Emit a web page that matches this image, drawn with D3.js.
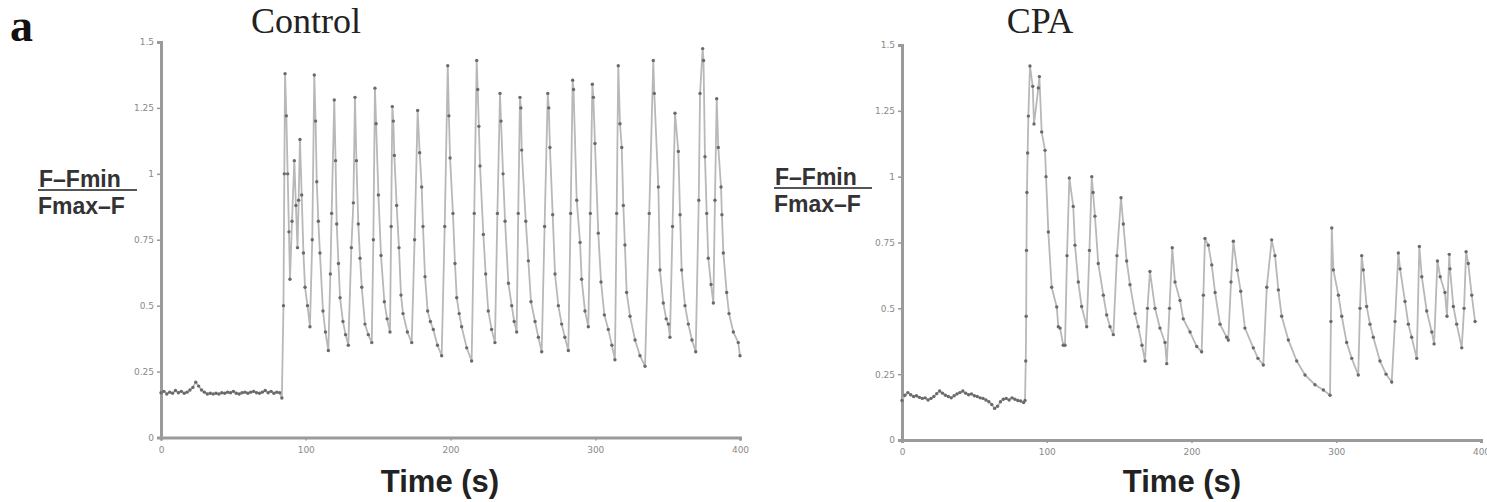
<!DOCTYPE html>
<html>
<head>
<meta charset="utf-8">
<script src="https://cdn.jsdelivr.net/npm/d3@7/dist/d3.min.js"></script>
<style>
  html, body { margin: 0; padding: 0; background: #fff; }
  svg { display: block; }
</style>
</head>
<body>
<svg id="fig" width="1487" height="502"></svg>
<script>
// Fluorescence ratio (F - Fmin)/(Fmax - F) over time, control vs CPA-treated cell.

const xTicks = [0, 100, 200, 300, 400];
const yTicks = [0, 0.25, 0.5, 0.75, 1, 1.25, 1.5];
const yTickLabels = ["0", "0.25", "0.5", "0.75", "1", "1.25", "1.5"];

// Control recording: time (s) and ratio value
const controlTime = [
  0, 2, 4, 6, 8, 10, 12, 14, 16, 18, 20, 22, 24, 26, 28, 30, 32, 34, 36, 38, 40,
  42, 44, 46, 48, 50, 52, 54, 56, 58, 60, 62, 64, 66, 68, 70, 72, 74, 76, 78, 80, 82, 83.5,
  84.6, 85.2, 85.7, 86.6, 87.5, 88.4, 89.1, 90.5, 92.1, 93.2, 94.3, 95.1, 96.0, 97.2, 98.4, 99.5, 101.2, 102.9,
  104.5, 105.9, 106.8, 107.6, 108.7, 109.8, 111.9, 113.6, 115.6,
  117.0, 117.9, 119.7, 120.6, 121.4, 122.6, 123.7, 125.7, 127.5, 129.4,
  131.5, 132.9, 134.0, 135.0, 136.3, 137.5, 138.7, 140.9, 143.2, 145.6,
  146.7, 147.8, 148.6, 150.2, 152.0, 154.3, 156.2, 158.2,
  159.0, 159.8, 160.5, 161.2, 162.8, 164.4, 165.8, 167.2, 170.2, 173.2,
  175.2, 177.3, 178.7, 180.1, 181.0, 182.4, 184.2, 186.1, 188.1, 191.0, 193.9,
  196.0, 198.1, 198.9, 199.7, 201.7, 203.1, 204.3, 206.0, 207.7, 211.2, 214.6,
  216.4, 218.1, 218.8, 219.6, 220.4, 222.7, 224.3, 226.1, 228.4, 230.7,
  232.4, 234.2, 234.9, 236.3, 237.7, 240.0, 242.3, 244.0, 245.7,
  246.8, 248.0, 248.6, 249.2, 252.0, 253.8, 255.6, 258.4, 260.7, 263.0,
  265.0, 267.2, 267.9, 268.7, 270.6, 272.2, 274.5, 276.8, 279.0, 281.4,
  283.0, 284.4, 285.0, 287.2, 289.5, 290.6, 292.9, 295.2,
  296.6, 298.0, 298.7, 299.8, 302.1, 304.0, 306.3, 309.0, 311.5, 313.6,
  314.8, 315.9, 317.1, 318.3, 319.4, 320.5, 321.7, 324.0, 327.5, 330.9, 334.4,
  337.3, 340.1, 340.8, 343.6, 344.7, 347.0, 349.0, 350.5, 351.6,
  353.4, 355.1, 357.4, 358.6, 359.7, 362.0, 364.3, 366.8, 369.4,
  371.5, 372.4, 374.2, 374.8, 375.8, 377.0, 378.1, 380.0, 381.6,
  382.7, 383.9, 385.0, 386.9, 387.5, 388.5, 390.8, 392.4, 395.4, 398.8, 400
];
const controlValue = [
  0.17, 0.175, 0.165, 0.172, 0.168, 0.178, 0.17, 0.175, 0.168, 0.172, 0.18, 0.19, 0.21, 0.195, 0.18, 0.172, 0.165, 0.168, 0.165, 0.168, 0.165,
  0.17, 0.168, 0.172, 0.17, 0.175, 0.168, 0.165, 0.17, 0.172, 0.168, 0.172, 0.175, 0.17, 0.168, 0.172, 0.178, 0.17, 0.175, 0.168, 0.172, 0.17, 0.15,
  0.5, 1.0, 1.38, 1.22, 1.0, 0.78, 0.6, 0.82, 1.05, 0.88, 0.72, 0.9, 1.13, 0.92, 0.7, 0.57, 0.5, 0.42,
  0.75, 1.375, 1.2, 0.97, 0.82, 0.70, 0.48, 0.40, 0.33,
  0.62, 0.85, 1.28, 1.05, 0.81, 0.66, 0.53, 0.44, 0.39, 0.35,
  0.72, 0.89, 1.29, 1.05, 0.81, 0.68, 0.57, 0.43, 0.39, 0.36,
  0.75, 1.325, 1.19, 0.92, 0.69, 0.515, 0.45, 0.40,
  0.8, 1.255, 1.2, 1.07, 0.88, 0.72, 0.54, 0.47, 0.40, 0.36,
  0.75, 1.24, 1.08, 0.95, 0.80, 0.61, 0.48, 0.44, 0.41, 0.35, 0.31,
  0.8, 1.41, 1.22, 1.06, 0.85, 0.66, 0.53, 0.47, 0.42, 0.34, 0.29,
  0.85, 1.43, 1.32, 1.18, 1.03, 0.77, 0.62, 0.48, 0.41, 0.36,
  0.85, 1.305, 1.2, 1.0, 0.82, 0.585, 0.50, 0.44, 0.40,
  0.85, 1.29, 1.25, 1.09, 0.82, 0.67, 0.515, 0.44, 0.38, 0.325,
  0.8, 1.305, 1.25, 1.10, 0.845, 0.62, 0.50, 0.43, 0.38, 0.33,
  0.85, 1.355, 1.32, 0.90, 0.74, 0.60, 0.48, 0.42,
  0.85, 1.34, 1.29, 1.115, 0.775, 0.59, 0.465, 0.41, 0.35, 0.295,
  0.85, 1.41, 1.19, 1.10, 0.88, 0.73, 0.55, 0.46, 0.37, 0.31, 0.27,
  0.85, 1.43, 1.305, 0.95, 0.635, 0.51, 0.45, 0.43, 0.38,
  0.8, 1.23, 1.085, 0.845, 0.635, 0.50, 0.43, 0.37, 0.325,
  0.9, 1.305, 1.475, 1.43, 1.065, 0.85, 0.68, 0.58, 0.51,
  0.9, 1.285, 1.10, 0.95, 0.845, 0.70, 0.55, 0.47, 0.40, 0.36, 0.31
];

// CPA recording: time (s) and ratio value
const cpaTime = [
  0, 2, 4, 6, 8, 10, 12, 14, 16, 18, 20, 22, 24, 26, 28, 30, 32, 34, 36, 38, 40,
  42, 44, 46, 48, 50, 52, 54, 56, 58, 60, 62, 64, 66, 68, 70, 72, 74, 76, 78, 80, 82, 84, 85,
  85.5, 85.8, 86.0, 86.3, 86.8, 87.3, 88.4, 90.3, 91.2, 94.2, 94.9, 96.5, 98.8, 99.5, 101.1, 103.4, 106.9, 108.0, 109.2, 111.4, 112.6,
  114.0, 115.6, 118.3, 119.5, 121.8, 124.1, 127.6,
  129.5, 131.1, 132.0, 133.3, 135.6, 139.1, 141.4, 143.7, 146.0,
  148.5, 151.3, 152.9, 155.2, 157.5, 161.0, 163.2, 165.8, 167.9,
  169.6, 171.3, 174.8, 178.2, 181.7, 182.9,
  184.8, 186.7, 188.6, 192.1, 194.3, 199.0, 203.6, 207.0,
  208.2, 209.3, 211.6, 214.0, 216.3, 219.7, 224.3, 225.4,
  227.3, 228.9, 231.6, 234.0, 236.9, 242.7, 245.9, 249.6,
  252.0, 255.4, 257.7, 260.0, 262.3, 266.9, 272.7, 278.4, 285.3, 291.1, 295.7,
  296.3, 296.9, 298.0, 301.5, 303.8, 307.2, 310.7, 315.2,
  316.4, 317.6, 318.7, 321.0, 323.3, 325.6, 330.2, 334.4, 338.3,
  340.6, 342.9, 344.1, 347.5, 349.8, 352.1, 355.6,
  357.4, 359.1, 362.5, 366.0, 367.6,
  369.9, 371.8, 375.1, 376.5,
  378.1, 378.6, 380.9, 383.2, 386.7,
  388.3, 389.7, 391.2, 393.6, 395.9
];
const cpaValue = [
  0.15, 0.17, 0.18, 0.172, 0.165, 0.168, 0.162, 0.158, 0.16, 0.152, 0.158, 0.165, 0.176, 0.186, 0.178, 0.17, 0.165, 0.16, 0.168, 0.175, 0.18,
  0.186, 0.178, 0.172, 0.175, 0.168, 0.165, 0.16, 0.158, 0.152, 0.145, 0.135, 0.12, 0.128, 0.145, 0.155, 0.158, 0.152, 0.16, 0.155, 0.15, 0.148, 0.142, 0.15,
  0.3, 0.47, 0.72, 0.94, 1.09, 1.23, 1.42, 1.343, 1.20, 1.337, 1.38, 1.17, 1.10, 1.0, 0.79, 0.58, 0.505, 0.43, 0.425, 0.36, 0.36,
  0.7, 0.995, 0.887, 0.74, 0.60, 0.507, 0.43,
  0.72, 1.0, 0.94, 0.85, 0.67, 0.55, 0.475, 0.43, 0.40,
  0.7, 0.92, 0.82, 0.68, 0.59, 0.48, 0.43, 0.36, 0.30,
  0.5, 0.64, 0.50, 0.425, 0.37, 0.29,
  0.5, 0.73, 0.60, 0.53, 0.46, 0.41, 0.355, 0.335,
  0.55, 0.765, 0.74, 0.665, 0.56, 0.44, 0.39, 0.38,
  0.6, 0.755, 0.645, 0.565, 0.425, 0.35, 0.31, 0.285,
  0.58, 0.76, 0.70, 0.57, 0.47, 0.38, 0.30, 0.247, 0.21, 0.19, 0.17,
  0.45, 0.805, 0.646, 0.55, 0.47, 0.37, 0.31, 0.247,
  0.5, 0.70, 0.646, 0.507, 0.44, 0.39, 0.30, 0.25, 0.22,
  0.45, 0.71, 0.65, 0.526, 0.44, 0.39, 0.31,
  0.735, 0.62, 0.49, 0.41, 0.365,
  0.68, 0.62, 0.56, 0.47,
  0.705, 0.65, 0.507, 0.44, 0.35,
  0.5, 0.715, 0.67, 0.55, 0.45
];

const panels = [
  { title: "Control", time: controlTime, value: controlValue,
    x0: 161, x1: 740, yBottom: 437.5, yTop: 42,
    titleX: 306, labelX: 39, labelLine: [38, 137], labelY: 187, timeX: 440 },
  { title: "CPA", time: cpaTime, value: cpaValue,
    x0: 902, x1: 1481, yBottom: 440, yTop: 45,
    titleX: 1040, labelX: 775, labelLine: [774, 872], labelY: 185, timeX: 1182 }
];

const svg = d3.select("#fig");

// panel letter
svg.append("text")
  .attr("x", 10).attr("y", 41)
  .attr("font-family", "'Liberation Serif', 'Times New Roman', serif")
  .attr("font-weight", "bold")
  .attr("font-size", 46)
  .attr("fill", "#111")
  .text("a");

panels.forEach(p => {
  const x = d3.scaleLinear().domain([0, 400]).range([p.x0, p.x1]);
  const y = d3.scaleLinear().domain([0, 1.5]).range([p.yBottom, p.yTop]);
  const g = svg.append("g");

  // title
  g.append("text")
    .attr("x", p.titleX).attr("y", 33)
    .attr("text-anchor", "middle")
    .attr("font-family", "'Liberation Serif', 'Times New Roman', serif")
    .attr("font-size", 36)
    .attr("fill", "#222")
    .text(p.title);

  // y label as a fraction
  const lab = g.append("g")
    .attr("font-family", "'Liberation Sans', Arial, sans-serif")
    .attr("font-weight", "bold")
    .attr("font-size", 23)
    .attr("fill", "#333");
  lab.append("text").attr("x", p.labelX).attr("y", p.labelY).text("F–Fmin");
  lab.append("line")
    .attr("x1", p.labelLine[0]).attr("x2", p.labelLine[1])
    .attr("y1", p.labelY + 3).attr("y2", p.labelY + 3)
    .attr("stroke", "#555").attr("stroke-width", 2);
  lab.append("text").attr("x", p.labelX - 1).attr("y", p.labelY + 27).text("Fmax–F");

  // x label
  g.append("text")
    .attr("x", p.timeX).attr("y", 492)
    .attr("text-anchor", "middle")
    .attr("font-family", "'Liberation Sans', Arial, sans-serif")
    .attr("font-weight", "bold")
    .attr("font-size", 31)
    .attr("fill", "#222")
    .text("Time (s)");

  // axes
  const yAxis = d3.axisLeft(y).tickValues(yTicks)
    .tickFormat((d, i) => yTickLabels[i]).tickSize(4).tickPadding(3);
  const xAxis = d3.axisBottom(x).tickValues(xTicks).tickSize(3).tickPadding(6);

  const ya = g.append("g").attr("transform", `translate(${p.x0},0)`).call(yAxis);
  const xa = g.append("g").attr("transform", `translate(0,${p.yBottom})`).call(xAxis);
  [ya, xa].forEach(a => {
    a.select(".domain").attr("stroke", "#9a9a9a").attr("stroke-width", 3);
    a.selectAll(".tick line").attr("stroke", "#9a9a9a").attr("stroke-width", 1.5);
    a.selectAll(".tick text")
      .attr("fill", "#8a8a8a")
      .attr("font-family", "'DejaVu Sans', sans-serif")
      .attr("font-size", 9);
  });

  // trace: line with a marker at each sample
  const pts = p.time.map((t, i) => [t, p.value[i]]);
  g.append("path")
    .datum(pts)
    .attr("fill", "none")
    .attr("stroke", "#b8b8b8")
    .attr("stroke-width", 1.8)
    .attr("d", d3.line().x(d => x(d[0])).y(d => y(d[1])));
  g.selectAll("circle.pt").data(pts).enter().append("circle")
    .attr("class", "pt")
    .attr("cx", d => x(d[0]))
    .attr("cy", d => y(d[1]))
    .attr("r", 1.7)
    .attr("fill", "#6a6a6a");
});
</script>
</body>
</html>
